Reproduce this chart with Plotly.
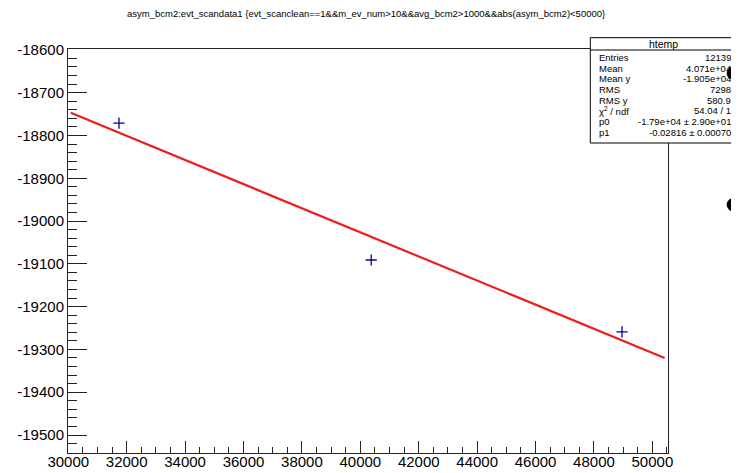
import plotly.graph_objects as go

# ---- data ----
point_x = [31736, 40372, 48961]
point_y = [-18771, -19091, -19259]

fit_p0 = -1.79e4
fit_p1 = -0.02816
fit_range = [30085, 50420]
fit_y = [fit_p0 + fit_p1 * v for v in fit_range]

# stray large black markers at the right edge of the canvas
stray_x = [52816, 52816]
stray_y = [-18654, -18962]

stats_labels = ["Entries", "Mean", "Mean y", "RMS", "RMS y", "χ<sup>2</sup> / ndf", "p0", "p1"]
stats_values = ["12139", "4.071e+04", "-1.905e+04", "7298", "580.9", "54.04 / 1",
                "-1.79e+04 ± 2.90e+01", "-0.02816 ± 0.00070"]

title_text = ("asym_bcm2:evt_scandata1 {evt_scanclean==1&&m_ev_num>10&&"
              "avg_bcm2>1000&&abs(asym_bcm2)<50000}")

x_range = [29990, 50535]
y_range = [-19542, -18598]
x_ticks = list(range(30000, 50001, 2000))
y_ticks = list(range(-19500, -18599, 100))

FONT = "Liberation Sans, Arial, sans-serif"

# page body has an 8px margin: figure is sized to fit inside the 739x473 window
OFF = 8
W, H = 739 - OFF, 473 - OFF
# plot frame in window pixels: x 67.5..668.3, y 49..453
ml = 67.5 - OFF
mr = W - (668.3 - OFF)
mt = 49 - OFF
mb = H - (453 - OFF)
pw, ph = W - ml - mr, H - mt - mb

def px(x):  # window pixel x -> paper
    return (x - OFF - ml) / pw

def py(y):  # window pixel y -> paper
    return (H - mb - (y - OFF)) / ph

def data_to_paper_x(v):
    return (v - x_range[0]) / (x_range[1] - x_range[0])

def data_to_paper_y(v):
    return (v - y_range[0]) / (y_range[1] - y_range[0])

fig = go.Figure()
fig.add_trace(go.Scatter(x=fit_range, y=fit_y, mode="lines",
                         line=dict(color="rgb(235,30,30)", width=2.2),
                         showlegend=False, hoverinfo="skip"))
fig.add_trace(go.Scatter(x=point_x, y=point_y, mode="markers",
                         marker=dict(symbol="cross-thin", size=8,
                                     line=dict(color="rgb(0,0,160)", width=1.3)),
                         showlegend=False))

fig.update_layout(
    width=W, height=H,
    margin=dict(l=ml, r=mr, t=mt, b=mb, pad=0, autoexpand=False),
    paper_bgcolor="white", plot_bgcolor="white",
    font=dict(family=FONT, color="black"),
    showlegend=False,
)
fig.update_xaxes(range=x_range, tickvals=x_ticks, ticktext=[str(v) for v in x_ticks],
                 automargin=False, ticklabelstandoff=-5,
                 showgrid=False, zeroline=False, showline=True, linecolor="#222", linewidth=1,
                 mirror=True, ticks="inside", ticklen=12, tickwidth=1, tickcolor="#222",
                 tickfont=dict(size=15, family=FONT),
                 minor=dict(dtick=500, tick0=30000, ticks="inside", ticklen=6, tickcolor="#222",
                            showgrid=False))
fig.update_yaxes(range=y_range, tickvals=y_ticks, ticktext=[str(v) for v in y_ticks],
                 automargin=False,
                 showgrid=False, zeroline=False, showline=True, linecolor="#222", linewidth=1,
                 mirror=True, ticks="inside", ticklen=19, tickwidth=1, tickcolor="#222",
                 tickfont=dict(size=15, family=FONT),
                 minor=dict(dtick=20, tick0=-19500, ticks="inside", ticklen=9, tickcolor="#222",
                            showgrid=False))

shapes = []
annotations = []

# title
annotations.append(dict(text=title_text, xref="paper", yref="paper",
                        x=px(366), y=py(14), xanchor="center", yanchor="middle",
                        showarrow=False, font=dict(size=9.5, family=FONT)))

# stats box
bx0, bx1, by0, by1, hdr = 590.5, 737, 37.7, 143, 50
shapes.append(dict(type="rect", xref="paper", yref="paper", x0=px(bx0), x1=px(bx1),
                   y0=py(by1), y1=py(by0), line=dict(color="black", width=1),
                   fillcolor="white", layer="above"))
shapes.append(dict(type="line", xref="paper", yref="paper", x0=px(bx0), x1=px(bx1),
                   y0=py(hdr), y1=py(hdr), line=dict(color="black", width=1), layer="above"))
annotations.append(dict(text="htemp", xref="paper", yref="paper", x=px((bx0 + bx1) / 2),
                        y=py((by0 + hdr) / 2), xanchor="center", yanchor="middle",
                        showarrow=False, font=dict(size=10.5, family=FONT)))
for i, (lab, val) in enumerate(zip(stats_labels, stats_values)):
    yy = 57.3 + i * 10.7
    annotations.append(dict(text=lab, xref="paper", yref="paper", x=px(597), y=py(yy),
                            xanchor="left", yanchor="middle", showarrow=False,
                            font=dict(size=9.5, family=FONT)))
    annotations.append(dict(text=val, xref="paper", yref="paper", x=px(733), y=py(yy),
                            xanchor="right", yanchor="middle", showarrow=False,
                            font=dict(size=9.5, family=FONT)))

# stray markers: paper-referenced so they are not clipped to the plot area
for sx, sy in zip(stray_x, stray_y):
    shapes.append(dict(type="circle", xref="paper", yref="paper",
                       xsizemode="pixel", ysizemode="pixel",
                       xanchor=data_to_paper_x(sx), yanchor=data_to_paper_y(sy),
                       x0=-8, x1=8, y0=-7, y1=7,
                       fillcolor="black", line=dict(color="black", width=0), layer="above"))

fig.update_layout(shapes=shapes, annotations=annotations)
fig.write_html("out.html")
